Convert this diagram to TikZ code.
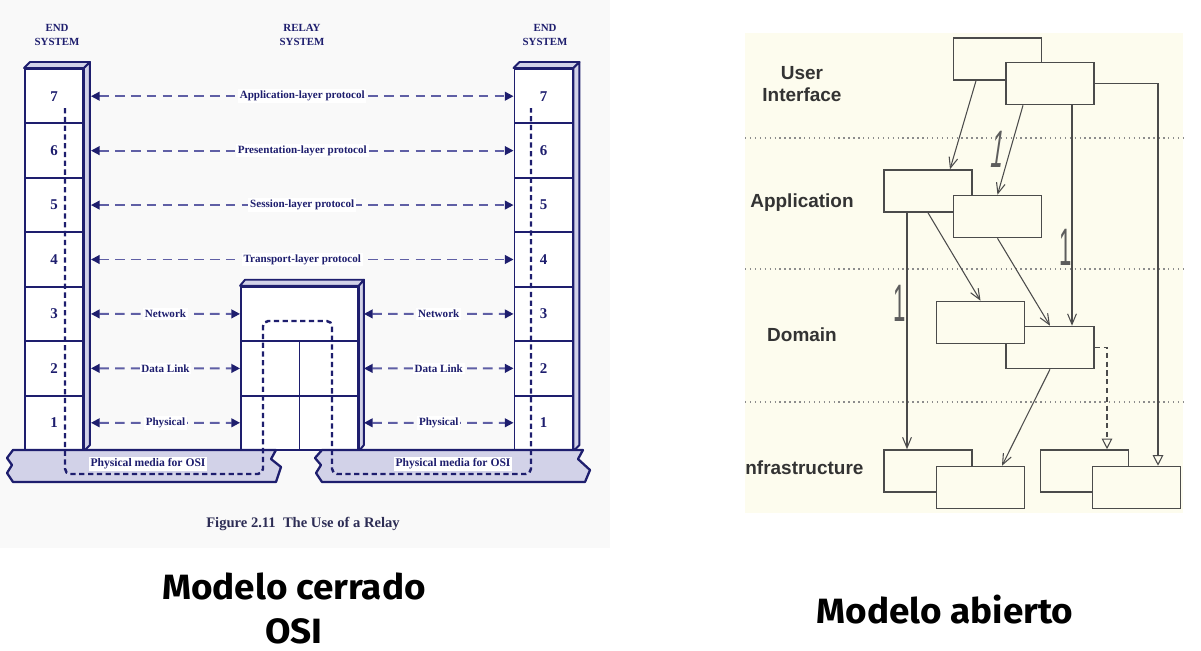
\documentclass[tikz,border=0pt]{standalone}
\usepackage{fontspec}
\setmainfont{Liberation Serif}
\newfontfamily\umlfont{Liberation Sans}
\newfontfamily\slidefont{Fira Sans}[FakeStretch=1.05]
\usetikzlibrary{arrows.meta,calc,positioning}

\definecolor{navy}{RGB}{30,30,110}
\definecolor{dashblue}{RGB}{95,95,165}
\definecolor{lavender}{RGB}{210,210,232}
\definecolor{paper}{RGB}{249,249,249}
\definecolor{cream}{RGB}{253,252,238}
\definecolor{umlgray}{RGB}{75,75,75}
\definecolor{captext}{RGB}{45,45,85}

\tikzset{
  layer/.style={draw=navy, line width=1.1pt, fill=white, minimum width=1.16cm,
    minimum height=1.0886cm, inner sep=0pt, text=navy,
    font=\fontsize{8.5}{10}\selectfont\bfseries},
  relaycell/.style={layer, minimum width=1.17cm},
  relaywide/.style={layer, minimum width=2.34cm},
  side/.style={draw=navy, line width=1.1pt, fill=lavender, line join=round},
  proto/.style={dashblue, line width=1.1pt, dash pattern=on 5.5pt off 3.5pt,
    {Triangle[length=5pt,width=5pt,color=navy]}-{Triangle[length=5pt,width=5pt,color=navy]}},
  protolabel/.style={fill=white, inner sep=1pt, text=navy,
    font=\fontsize{6.3}{7}\selectfont\bfseries},
  dataflow/.style={navy, line width=1.4pt, dash pattern=on 3pt off 2pt, rounded corners=3pt},
  media/.style={draw=navy, line width=1.3pt, fill=lavender, line join=round},
  heading/.style={align=center, text=navy, font=\fontsize{6.2}{8}\selectfont\bfseries},
  umlbox/.style={draw=umlgray, line width=0.9pt, fill=cream, minimum width=1.76cm,
    minimum height=0.84cm, inner sep=0pt},
  dep/.style={umlgray, line width=0.6pt, -{Straight Barb[length=6pt,width=5pt]}},
  gen/.style={umlgray, line width=0.6pt, -{Triangle[open,length=6pt,width=6pt,fill=cream]}},
  layername/.style={text=black!80, align=center,
    font=\umlfont\fontsize{10.8}{12.5}\selectfont\bfseries},
  mult/.style={text=umlgray!90, xscale=0.42, font=\umlfont\fontsize{30}{30}\selectfont},
  sep/.style={black!45, line width=0.8pt, dotted},
  slidetitle/.style={anchor=base, font=\slidefont\fontsize{20}{24}\selectfont\bfseries}
}

\begin{document}
\begin{tikzpicture}[x=0.02cm, y=-0.02cm]
\useasboundingbox (0,0) rectangle (1201,650);

%%% closed model: OSI with a relay
\fill[paper] (0,0) rectangle (610,548);

\node[heading] (hleft) at (57,35) {END\\SYSTEM};
\node[heading] (hrelay) at (302,35) {RELAY\\SYSTEM};
\node[heading] (hright) at (545,35) {END\\SYSTEM};

% end systems
\foreach \n [count=\i from 0] in {7,...,1}{
  \node[layer] (l\n) at (54,96.2+54.43*\i) {\n};
  \node[layer] (r\n) at (543.5,96.2+54.43*\i) {\n};
}
\draw[side] (l7.north west) -- ++(6,-6) -- ($(l7.north east)+(6,-6)$) -- (l7.north east) -- cycle;
\draw[side] (l7.north east) -- ++(6,-6) -- ($(l1.south east)+(6,-6)$) -- (l1.south east) -- cycle;
\draw[side] (r7.north west) -- ++(6,-6) -- ($(r7.north east)+(6,-6)$) -- (r7.north east) -- cycle;
\draw[side] (r7.north east) -- ++(6,-6) -- ($(r1.south east)+(6,-6)$) -- (r1.south east) -- cycle;

% relay
\node[relaywide] (rn) at (299.5,313.9) {};
\node[relaycell] (rd1) at (270.25,368.4) {};
\node[relaycell] (rd2) at (328.75,368.4) {};
\node[relaycell] (rp1) at (270.25,422.8) {};
\node[relaycell] (rp2) at (328.75,422.8) {};
\draw[side] (rn.north west) -- ++(5,-6) -- ($(rn.north east)+(5,-6)$) -- (rn.north east) -- cycle;
\draw[side] (rn.north east) -- ++(5,-6) -- ($(rp2.south east)+(5,-6)$) -- (rp2.south east) -- cycle;

% peer protocols
\foreach \n/\txt in {7/Application-layer protocol, 6/Presentation-layer protocol,
    5/Session-layer protocol, 4/Transport-layer protocol}
  \draw[proto] ($(l\n.east)+(7,0)$) -- node[protolabel] {\txt} (r\n.west);
\foreach \n/\a/\b/\txt in {3/rn/rn/Network, 2/rd1/rd2/Data Link, 1/rp1/rp2/Physical}{
  \draw[proto] ($(l\n.east)+(7,0)$) -- node[protolabel] {\txt} (\a.west);
  \draw[proto] ($(\b.east)+(5,0)$) -- node[protolabel] {\txt} (r\n.west);
}

% physical media
\draw[media] (13,450) -- (276,450) -- (271,459) -- (281,467) -- (276,482) -- (13,482)
  -- (7,473) -- (12,465) -- (7,458) -- cycle;
\draw[media] (322,450) -- (583,450) -- (578,459) -- (590,470) -- (585,482) -- (322,482)
  -- (316,473) -- (321,465) -- (315,458) -- cycle;
\node[protolabel, font=\fontsize{6.6}{8}\selectfont\bfseries] (media1) at (148,464) {Physical media for OSI};
\node[protolabel, font=\fontsize{6.6}{8}\selectfont\bfseries] (media2) at (453,464) {Physical media for OSI};

% path of the data
\draw[dataflow] (65,108) -- (65,474) -- (263,474) -- (263,321) -- (332,321) -- (332,474)
  -- (531,474) -- (531,108);

\node[text=captext, font=\fontsize{8.3}{10}\selectfont\bfseries] (cap) at (303,524)
  {Figure 2.11\ \ The Use of a Relay};

%%% open model: layered classes
\fill[cream] (745,33) rectangle (1183,513);
\foreach \y in {138,269,402}
  \draw[sep] (745,\y) -- (1183,\y);

\node[layername] (lui) at (802,84) {User\\Interface};
\node[layername] (lapp) at (802,203) {Application};
\node[layername] (ldom) at (802,335) {Domain};
\node[layername, anchor=west, inner sep=0pt] (linf) at (745,468) {nfrastructure};

\node[umlbox] (ui1) at (997.5,59) {};
\node[umlbox] (ui2) at (1050,83.5) {};
\node[umlbox] (a1) at (928,191) {};
\node[umlbox] (a2) at (997.5,216.5) {};
\node[umlbox] (d2) at (1050,347.5) {};
\node[umlbox] (d1) at (980.5,322.5) {};
\node[umlbox] (i1) at (928,471) {};
\node[umlbox] (i2) at (980.5,487.5) {};
\node[umlbox] (i3) at (1084.5,471) {};
\node[umlbox] (i4) at (1136.5,487.5) {};

\draw[dep] ($(ui1.south)+(-21.5,0)$) -- ($(a1.north)+(22,0)$);
\draw[dep] ($(ui2.south)+(-27,0)$) -- (a2.north);
\coordinate (c3) at ($(ui2.south)+(22,0)$);
\draw[dep] (c3) -- (c3 |- d2.north);
\draw[gen] (ui2.east) -| ($(i4.north)+(21.5,0)$);
\draw[dep] ($(a1.south)+(-21,0)$) -- ($(i1.north)+(-21,0)$);
\draw[dep] (a1.south) -- (d1.north);
\draw[dep] (a2.south) -- (d2.north);
\draw[dep] (d2.south) -- ($(i2.north)+(21.5,0)$);
\draw[gen, densely dashed] (d2.east) -| ($(i3.north)+(22.5,0)$);

\node[mult, xslant=0.35] (m1) at (998,149) {1};
\node[mult] (m2) at (1066,247) {1};
\node[mult] (m3) at (900,303) {1};

%%% titles
\node[slidetitle] (t1) at (294,599) {Modelo cerrado};
\node[slidetitle] (t1b) at (294,643) {OSI};
\node[slidetitle] (t2) at (945,623) {Modelo abierto};

\end{tikzpicture}
\end{document}
